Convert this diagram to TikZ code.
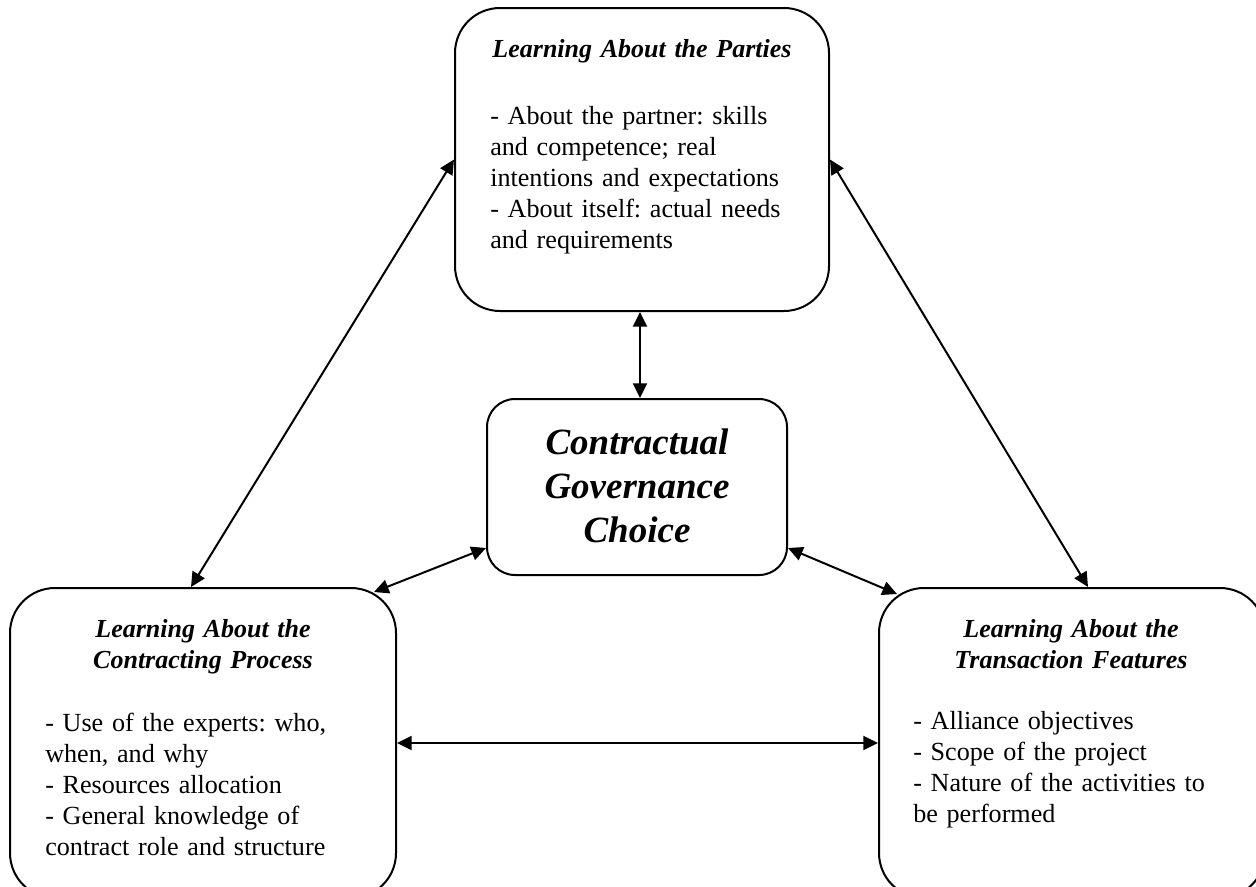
\documentclass[tikz,border=0pt]{standalone}
\usepackage{fontspec}
\setmainfont{Liberation Serif}
\usetikzlibrary{arrows.meta,calc}
\begin{document}
\frenchspacing
\begin{tikzpicture}[x=0.75pt,y=-0.75pt,
  bigbox/.style={draw,line width=1.5pt,rounded corners=33.75pt,inner sep=0pt,
    minimum width=289.5pt,minimum height=232.5pt},
  topbox/.style={draw,line width=1.5pt,rounded corners=33.75pt,inner sep=0pt,
    minimum width=280.5pt,minimum height=227.25pt},
  midbox/.style={draw,line width=1.5pt,rounded corners=21pt,inner sep=0pt,
    minimum width=225pt,minimum height=132pt},
  bodytext/.style={inner sep=0pt,anchor=base west,align=left,text width=245pt,
    font=\fontsize{19.6pt}{23.25pt}\selectfont\frenchspacing},
  titletext/.style={inner sep=0pt,anchor=base,align=center,text width=280pt,
    font=\fontsize{19.5pt}{23.25pt}\selectfont\bfseries\itshape},
  midtext/.style={inner sep=0pt,anchor=base,align=center,text width=220pt,
    font=\fontsize{27.75pt}{33pt}\selectfont\bfseries\itshape},
  conn/.style={line width=1.5pt,
    {Triangle[length=11pt,width=10.5pt]}-{Triangle[length=11pt,width=10.5pt]}}]
\fill[white] (0,0) rectangle (1256,886);
\useasboundingbox (0,0) rectangle (1256,886);

% boxes
\node[topbox] (T) at (642,159.5) {};
\node[midbox] (C) at (637,487) {};
\node[bigbox] (L) at (203,743) {};
\node[bigbox] (R) at (1072,743) {};

% texts
\node[titletext] (Tt) at (642,57) {Learning About the Parties};
\node[bodytext] (Tb) at (490,124) {- About the partner: skills\\and competence; real\\intentions and expectations\\- About itself: actual needs\\and requirements};

\node[midtext] (Ct) at (637,454) {Contractual\\Governance\\Choice};

\node[titletext] (Lt) at (203,637) {Learning About the\\Contracting Process};
\node[bodytext] (Lb) at (45,731) {- Use of the experts: who,\\when, and why\\- Resources allocation\\- General knowledge of\\contract role and structure};

\node[titletext] (Rt) at (1071,637) {Learning About the\\Transaction Features};
\node[bodytext] (Rb) at (913,729) {- Alliance objectives\\- Scope of the project\\- Nature of the activities to\\be performed};

% connectors
\coordinate (vx) at (640,0);
\draw[conn] (T.west) -- ($(L.north)+(-12,0)$);
\draw[conn] (T.east) -- ($(R.north)+(16,0)$);
\draw[conn] (T.south -| vx) -- (C.north -| vx);
\draw[conn] ($(C.south west)+(0,-28)$) -- ($(L.north east)+(-23,5)$);
\draw[conn] ($(C.south east)+(0,-28)$) -- ($(R.north west)+(19,7)$);
\draw[conn] (L.east) -- (R.west);
\end{tikzpicture}
\end{document}
